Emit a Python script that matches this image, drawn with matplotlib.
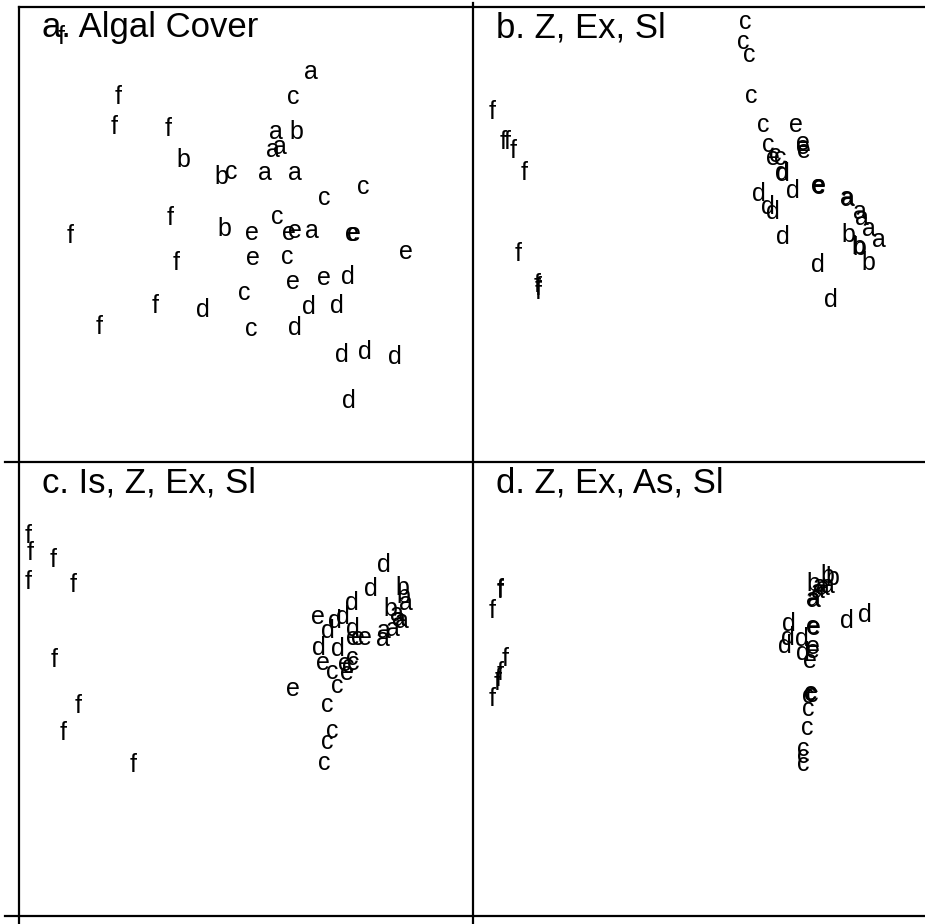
import matplotlib
matplotlib.use("Agg")
import matplotlib.pyplot as plt
from matplotlib.lines import Line2D

plt.rcParams["font.family"] = ["Liberation Sans", "DejaVu Sans"]

# ordination scores per panel (arbitrary units, 0-100 across each panel)
titles = ["a. Algal Cover", "b. Z, Ex, Sl", "c. Is, Z, Ex, Sl", "d. Z, Ex, As, Sl"]

a_lab = list("aaaaaaa" + "bbbb" + "cccccccc" + "ddddddddd" + "eeeeeeeee" + "fffffffff")
a_x = [64.3, 56.6, 57.5, 55.9, 54.2, 60.8, 64.5,
       61.2, 36.1, 44.5, 45.2,
       60.4, 46.7, 75.8, 67.2, 56.8, 59.0, 49.6, 51.1,
       72.5, 40.5, 63.9, 70.0, 60.8, 71.1, 76.2, 82.8, 72.7,
       51.3, 59.5, 60.8, 73.3, 73.8, 85.2, 51.5, 60.4, 67.2,
       9.3, 21.8, 20.9, 32.8, 33.3, 11.2, 34.6, 30.0, 17.6]
a_y = [85.7, 72.5, 69.2, 68.6, 63.5, 63.5, 50.8,
       72.5, 66.4, 62.6, 51.2,
       80.2, 63.7, 60.4, 58.0, 53.8, 45.1, 37.1, 29.2,
       40.7, 33.4, 34.1, 34.3, 29.5, 23.5, 24.2, 23.1, 13.4,
       50.3, 50.3, 50.8, 50.1, 50.1, 46.2, 44.8, 39.6, 40.4,
       93.4, 80.2, 73.6, 73.2, 53.6, 49.7, 43.7, 34.3, 29.7]

b_lab = list("cccccccc" + "eeeeeeee" + "ddddddddd" + "aaaaaa" + "bbbb" + "fffffffff")
b_x = [59.9, 59.5, 60.8, 61.2, 63.9, 65.0, 66.5, 67.6,
       66.1, 71.1, 72.7, 72.7, 72.9, 76.0, 76.2, 76.1,
       68.1, 68.3, 70.5, 63.0, 65.0, 66.1, 68.3, 76.0, 78.9,
       82.4, 82.6, 85.2, 85.7, 87.2, 89.4,
       82.6, 84.8, 85.0, 87.0,
       4.2, 6.6, 7.5, 8.8, 11.2, 9.9, 14.1, 14.3, 14.3]
b_y = [96.7, 92.3, 89.5, 80.4, 74.1, 69.7, 67.5, 66.8,
       66.8, 74.1, 70.1, 69.2, 68.4, 60.7, 60.5, 60.6,
       63.5, 63.3, 59.6, 58.9, 56.0, 54.9, 49.5, 43.3, 35.6,
       58.0, 57.8, 54.9, 53.6, 51.2, 48.8,
       49.9, 47.3, 47.1, 43.7,
       76.9, 70.3, 70.3, 68.4, 63.5, 45.7, 38.9, 38.2, 37.4]

c_lab = list("fffffffff" + "ddddddddd" + "bbb" + "aaaaaaa" + "eeeeeeee" + "ccccccccc")
c_x = [2.0, 2.4, 7.5, 2.0, 11.9, 7.7, 13.0, 9.7, 25.1,
       80.4, 77.5, 73.3, 71.4, 69.6, 68.1, 73.6, 66.1, 70.3,
       84.4, 84.6, 81.9,
       85.2, 83.3, 83.7, 84.4, 82.4, 80.4, 80.2,
       65.9, 73.6, 74.7, 76.2, 67.0, 71.8, 72.2, 60.4,
       73.3, 68.9, 72.5, 73.6, 70.0, 67.8, 68.9, 67.8, 67.2]
c_y = [83.7, 80.0, 78.5, 73.6, 73.0, 56.5, 46.4, 40.4, 33.4,
       77.4, 72.1, 69.0, 65.9, 65.1, 62.9, 63.3, 59.1, 58.9,
       72.3, 70.5, 67.7,
       69.0, 66.6, 65.5, 65.1, 63.3, 62.9, 61.1,
       65.9, 61.3, 61.3, 61.3, 55.8, 55.6, 53.6, 50.1,
       56.9, 53.8, 55.2, 55.8, 50.8, 46.6, 40.9, 38.5, 33.8]

d_lab = list("ffffffff" + "bbb" + "aaaaaa" + "ddddddd" + "eeeeee" + "cccccccc")
d_x = [5.9, 6.0, 4.2, 7.0, 5.9, 5.5, 5.3, 4.2,
       78.0, 79.1, 74.9,
       76.4, 77.1, 78.2, 76.0, 74.9, 75.1,
       82.4, 86.3, 69.6, 69.4, 68.7, 72.5, 72.7,
       74.9, 75.1, 74.9, 74.9, 74.2, 74.4,
       74.2, 73.8, 74.7, 73.8, 73.6, 72.7, 72.7, 72.7]
d_y = [71.6, 71.9, 67.3, 56.7, 53.6, 52.3, 51.4, 47.9,
       74.9, 74.5, 73.2,
       72.7, 72.3, 72.7, 71.6, 69.9, 69.7,
       65.1, 66.4, 64.4, 61.3, 59.6, 61.1, 58.0,
       63.7, 63.5, 59.3, 58.5, 56.3, 49.2,
       49.0, 48.6, 48.8, 45.7, 41.5, 36.9, 35.4, 33.6]

panels = [(a_lab, a_x, a_y), (b_lab, b_x, b_y), (c_lab, c_x, c_y), (d_lab, d_x, d_y)]

W, H = 925, 924
fig = plt.figure(figsize=(W / 100, H / 100), dpi=100)

# panel boxes in pixels: left, top
boxes = [(19, 7), (473, 7), (19, 462), (473, 462)]
pw, ph = 454, 455

for (labs, xs, ys), (left, top), title in zip(panels, boxes, titles):
    ax = fig.add_axes([left / W, 1 - (top + ph) / H, pw / W, ph / H])
    ax.set_xlim(0, 100)
    ax.set_ylim(0, 100)
    ax.axis("off")
    for lab, x, y in zip(labs, xs, ys):
        ax.text(x, y, lab, fontsize=18, ha="center", va="center")
    ax.text(0.05, 0.933, title, transform=ax.transAxes, fontsize=25,
            ha="left", va="baseline")

# frame lines
def hline(y, x0, x1):
    fig.add_artist(Line2D([x0 / W, x1 / W], [1 - y / H, 1 - y / H],
                          color="black", lw=1.6, transform=fig.transFigure))

def vline(x, y0, y1):
    fig.add_artist(Line2D([x / W, x / W], [1 - y0 / H, 1 - y1 / H],
                          color="black", lw=1.6, transform=fig.transFigure))

hline(7, 19, 925)
hline(462, 5, 925)
hline(916, 5, 925)
vline(19, 7, 924)
vline(473, 3, 924)

fig.savefig("out.png", dpi=100)
